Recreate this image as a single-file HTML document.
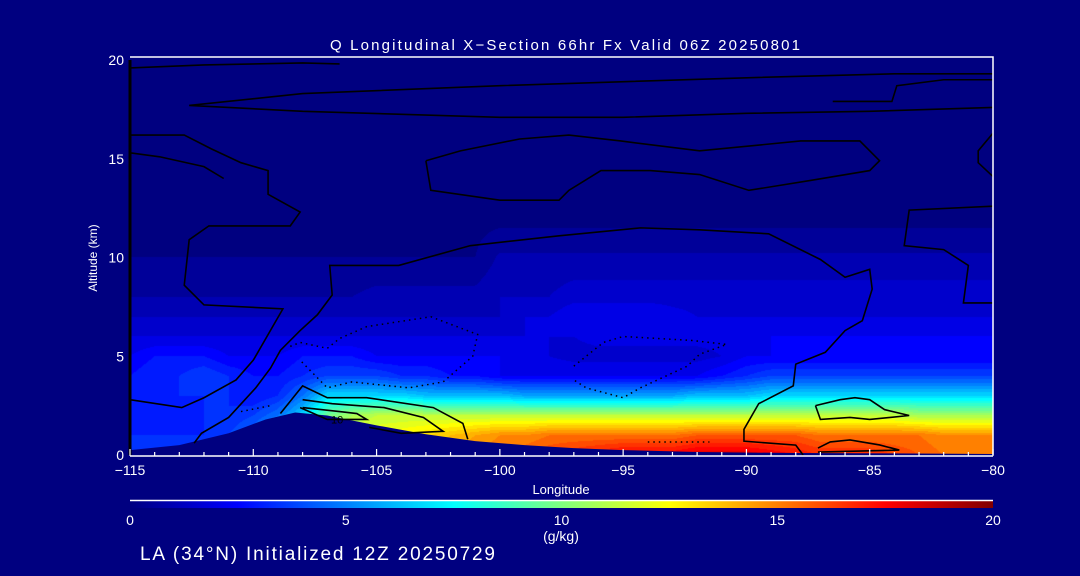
<!DOCTYPE html>
<html><head><meta charset="utf-8">
<style>
html,body{margin:0;padding:0;background:#000080;}
#wrap{position:relative;width:1080px;height:576px;overflow:hidden;background:#000080;font-family:"Liberation Sans",sans-serif;}
canvas{position:absolute;left:0;top:0;}
svg{position:absolute;left:0;top:0;}
</style></head>
<body>
<div id="wrap">
<canvas id="heat" width="1080" height="576"></canvas>
<svg id="ov" width="1080" height="576" viewBox="0 0 1080 576">
<defs>
<linearGradient id="jet" x1="0" x2="1" y1="0" y2="0">
<stop offset="0" stop-color="rgb(0,0,128)"/>
<stop offset="0.125" stop-color="rgb(0,0,255)"/>
<stop offset="0.375" stop-color="rgb(0,255,255)"/>
<stop offset="0.5" stop-color="rgb(127,255,127)"/>
<stop offset="0.625" stop-color="rgb(255,255,0)"/>
<stop offset="0.875" stop-color="rgb(255,0,0)"/>
<stop offset="1" stop-color="rgb(128,0,0)"/>
</linearGradient>
</defs>
<text x="565" y="50" fill="#fff" font-size="15" text-anchor="middle" textLength="470">Q Longitudinal X−Section 66hr  Fx Valid 06Z 20250801</text>
<text transform="translate(97,258) rotate(-90)" fill="#fff" font-size="12" text-anchor="middle">Altitude (km)</text>
<text x="561" y="494" fill="#fff" font-size="13" text-anchor="middle">Longitude</text>
<rect x="130" y="501" width="863" height="7" fill="url(#jet)"/>
<line x1="130" y1="500.5" x2="993" y2="500.5" stroke="#fff" stroke-width="1.5"/>
<text x="561" y="541" fill="#fff" font-size="14" text-anchor="middle">(g/kg)</text>
<text x="140" y="560" fill="#fff" font-size="19" textLength="355">LA (34°N) Initialized 12Z 20250729</text>
</svg>
</div>
<script>
// ---- data ----
const lons = [-115,-114,-113,-112,-111,-110,-109,-108,-107,-106,-105,-104,-103,-102,-101,-100,-99,-98,-97,-96,-95,-94,-93,-92,-91,-90,-89,-88,-87,-86,-85,-84,-83,-82,-81,-80];
const alts = [0,1,2,3,4,5,6,7,8,10,12,15,20];
const q0 = [3.5,3.5,3.5,4,4,5,7,9,11,12,13,13.5,14,14.5,15,15.5,16,16.5,17,17.5,18,18,18,18.5,18.5,18.5,18,17.5,17,17,17,16.5,16,15.5,15,15];
const q1 = [3.5,3.5,3.5,3.5,4,5,7,9,11,12,12.5,13,13.5,14,14.5,15,15,15.5,15.5,15.5,15.5,15.5,15.5,16,16,16,16,16,15.5,15.5,15.5,15.5,15.5,15,15,15];
const q2 = [3,3,3,3.5,3.5,4,5,7,10,11,11.5,11.5,11.5,11.5,11.5,11.5,11.5,11.5,11.5,11.5,11.5,11.5,11.5,11.5,11.5,11.5,11.5,11.5,11.5,11.5,11.5,11.5,11,11,11,11];
const q3 = [3,3,3.5,3.5,3.5,3,3.5,5,7,7,7,7,6.5,6.5,6.5,6.5,6,6,6,6,6,6,6,6.5,6.5,6.5,7,7,7,7,7,7,7,7,7,7];
const q4 = [3,3.5,3.5,4,3.5,3,3,3.5,4,4,4,3.5,3.5,3,3,2.5,2.5,2.5,2.5,2.5,2.5,2.5,2.5,2.5,3,3.5,4,4,4,4,4,4,4,4,4,4];
const q5 = [2.5,3,3,3,2.5,2.5,2.5,3,3,3,2.5,2.5,2.5,2.5,2.5,2.5,2,2,1.8,1.8,1.8,1.8,1.8,1.8,2,2.5,2.5,2.5,2.5,2.5,2.5,2.5,2.5,2.5,2.5,2.5];
const q6 = [2,2,2,2,2,2,2,2,2,2,2,2,2,2,2,2,2,2,2,2.2,2.2,2.2,2.2,2.2,2.2,2.2,2.5,2.5,2.5,2.5,2.5,2.5,2.5,2.5,2.5,2.5];
const q7 = [1.5,1.5,1.5,1.5,1.5,1.5,1.5,1.5,1.5,1.5,1.5,1.5,1.5,1.5,1.5,1.5,2,2,2.5,2.5,2.5,2.5,2.2,2,2,2,2,2,2,2,2,2,2,2,2,2];
const q8 = [1,1,1,1,1,1,1,1,1,1,1.2,1.2,1.2,1.2,1.2,1.5,1.5,1.5,1.8,1.8,1.8,1.8,1.8,1.8,1.8,1.8,1.8,1.8,1.8,1.8,1.8,1.8,1.8,1.8,1.8,1.8];
const q10 = [0.5,0.5,0.5,0.5,0.5,0.5,0.5,0.5,0.5,0.5,0.5,0.5,0.5,0.5,0.5,1.1,1.1,1.1,1.1,1.1,1.1,1.1,1.1,1.1,1.1,1.1,1.1,1.1,1.1,1.1,1.1,1.1,1.1,1.1,1.1,1.1];
const q12 = [0.3,0.3,0.3,0.3,0.3,0.3,0.3,0.3,0.3,0.3,0.3,0.3,0.3,0.3,0.3,0.3,0.3,0.3,0.3,0.3,0.3,0.3,0.3,0.3,0.3,0.3,0.3,0.3,0.3,0.3,0.3,0.3,0.3,0.3,0.3,0.3];
const q15 = [0,0,0,0,0,0,0,0,0,0,0,0,0,0,0,0,0,0,0,0,0,0,0,0,0,0,0,0,0,0,0,0,0,0,0,0];
const q20 = [0,0,0,0,0,0,0,0,0,0,0,0,0,0,0,0,0,0,0,0,0,0,0,0,0,0,0,0,0,0,0,0,0,0,0,0];
const qRows = [q0,q1,q2,q3,q4,q5,q6,q7,q8,q10,q12,q15,q20];
const terrainLon = [-115,-113,-111,-109.5,-108.3,-107,-105,-103,-101,-99,-97,-95,-92,-88,-84,-80];
const terrainAlt = [0.25,0.5,1.1,1.8,2.15,2.0,1.5,1.05,0.7,0.5,0.35,0.25,0.15,0.1,0.08,0.05];
const xTicks = [-115,-110,-105,-100,-95,-90,-85,-80];
const xTickLabels = ["−115","−110","−105","−100","−95","−90","−85","−80"];
const yTicks = [0,5,10,15,20];
const cbTicks = [0,5,10,15,20];
// contour lines (lon, alt)
const cA = [[-112.4,0.6],[-112.1,1.1],[-111,1.9],[-109.9,3.4],[-109.3,4.4],[-108.9,5.3],[-108.1,6.3],[-107.4,7.1],[-106.8,8.1],[-106.9,9.6],[-104.1,9.6],[-101.2,10.6],[-97.6,11.1],[-94.3,11.5],[-91.9,11.4],[-89.1,11.2],[-87,9.9],[-86,9],[-85,9.4],[-84.9,8.4],[-85.3,6.8],[-86,6.3],[-86.8,5.2],[-88,4.6],[-88.1,3.5],[-89.5,2.6],[-90.1,1.3],[-90.1,0.7],[-88,0.5],[-87.7,0]];
const cB = [[-115,16.2],[-112.8,16.2],[-111.7,15.5],[-110.5,14.8],[-109.4,14.4],[-109.4,13.2],[-108.1,12.3],[-108.5,11.6],[-111.8,11.6],[-112.6,10.9],[-112.8,8.6],[-112,7.6],[-108.8,7.4],[-110,4.8],[-110.7,3.8],[-112,2.9],[-112.9,2.4],[-115,2.8]];
const cB2 = [[-115,15.3],[-113.8,15.1],[-112,14.6],[-111.2,14]];
const cC = [[-103,14.9],[-101.6,15.4],[-99.2,16],[-97.2,16.2],[-95.1,15.9],[-91.9,15.4],[-87.8,15.9],[-85.4,15.9],[-84.6,14.9],[-85,14.4],[-87.4,13.9],[-89.9,13.4],[-91.9,14.2],[-93.9,14.4],[-95.9,14.4],[-97.2,13.4],[-97.6,12.9],[-100,12.9],[-102.8,13.4],[-103,14.9]];
const cD = [[-80,19.3],[-84,19.3],[-90,19.1],[-100,18.7],[-108,18.3],[-112.6,17.7],[-108,17.4],[-100,17.1],[-95,17.1],[-90,17.3],[-85,17.4],[-80,17.6]];
const cE = [[-115,19.6],[-112,19.75],[-108,19.85],[-106.5,19.8]];
const cR1 = [[-80,16.3],[-80.6,15.4],[-80.6,14.8],[-80,14.1]];
const cR2 = [[-80,12.6],[-83.4,12.4],[-83.6,10.6],[-82,10.4],[-81,9.6],[-81.2,7.7],[-80,7.7]];
const cR3 = [[-86.5,17.9],[-85.5,17.9],[-84.1,17.9],[-83.9,18.7],[-82,19],[-80,19]];
const cL1 = [[-87.2,2.5],[-86.2,2.8],[-85.6,2.9],[-85,2.8],[-84.4,2.3],[-83.4,2],[-85,1.8],[-85.8,1.9],[-87,1.8],[-87.2,2.5]];
const cL2 = [[-87.1,0.35],[-86.6,0.66],[-85.8,0.76],[-84.6,0.51],[-83.8,0.25],[-87.1,0.15]];
const cH = [[-108.9,2.1],[-108,3.5],[-107,2.9],[-105.4,2.9],[-102.7,2.4],[-101.5,1.6],[-101.3,0.8]];
const cI = [[-108,2.8],[-106.8,2.6],[-104.7,2.4],[-103.1,1.9],[-102.3,1.2],[-104,1.1],[-105.3,1.4]];
const cJ = [[-108.1,2.4],[-107,1.8],[-105.4,1.8],[-105.8,2.1],[-106.5,2.2],[-108,2.4]];
const dA = [[-108.5,5.5],[-108.1,5.7],[-107,5.4],[-106.5,5.9],[-105.4,6.5],[-102.8,7],[-100.9,6.1],[-101.1,5],[-102.3,3.7],[-103.7,3.4],[-106,3.7],[-107,3.4],[-108.1,4.8]];
const dB = [[-97,4.5],[-95.8,5.7],[-95,6],[-92.2,5.8],[-90.8,5.6],[-91.9,5.1],[-92.4,4.5],[-94.3,3.4],[-95,2.9],[-96.5,3.4],[-97,3.8]];
const dC = [[-94,0.66],[-91.5,0.66]];
const dD = [[-110.5,2.2],[-109.3,2.5]];
const solidContours = [cA,cB,cB2,cC,cD,cE,cR1,cR2,cR3,cL1,cL2,cH,cI,cJ];
const dottedContours = [dA,dB,dC,dD];

// ---- axes ----
const X0=130,X1=993,Y0=455,Y1=60;
const LON0=-115,LON1=-80,ALT0=0,ALT1=20;
function xs(l){return X0+(l-LON0)/(LON1-LON0)*(X1-X0);}
function ys(a){return Y0-(a-ALT0)/(ALT1-ALT0)*(Y0-Y1);}
function xl(px){return LON0+(px-X0)/(X1-X0)*(LON1-LON0);}
function yl(py){return ALT0+(Y0-py)/(Y0-Y1)*(ALT1-ALT0);}
function jet(v){
  let t=Math.max(0,Math.min(1,v/20));
  const c=x=>Math.round(255*Math.max(0,Math.min(1,x)));
  return [c(1.5-Math.abs(4*t-3)),c(1.5-Math.abs(4*t-2)),c(1.5-Math.abs(4*t-1))];
}
function sample(l,a){
  let i=0; while(i<lons.length-2 && lons[i+1]<l) i++;
  let j=0; while(j<alts.length-2 && alts[j+1]<a) j++;
  let fx=(l-lons[i])/(lons[i+1]-lons[i]); fx=Math.max(0,Math.min(1,fx));
  let fy=(a-alts[j])/(alts[j+1]-alts[j]); fy=Math.max(0,Math.min(1,fy));
  const r0=qRows[j],r1=qRows[j+1];
  const v0=r0[i]*(1-fx)+r0[i+1]*fx, v1=r1[i]*(1-fx)+r1[i+1]*fx;
  return v0*(1-fy)+v1*fy;
}
// heatmap
const cv=document.getElementById('heat'),ctx=cv.getContext('2d');
ctx.fillStyle='#000080';ctx.fillRect(0,0,1080,576);
const img=ctx.getImageData(X0,Y1,X1-X0,Y0-Y1);
for(let py=0;py<Y0-Y1;py++){for(let px=0;px<X1-X0;px++){
  let v=sample(xl(X0+px+0.5),yl(Y1+py+0.5));
  v=Math.floor(v*2)/2;
  const c=jet(v),k=(py*(X1-X0)+px)*4;
  img.data[k]=c[0];img.data[k+1]=c[1];img.data[k+2]=c[2];img.data[k+3]=255;
}}
ctx.putImageData(img,X0,Y1);

const svg=document.getElementById('ov'),NS='http://www.w3.org/2000/svg';
function mk(tag,attrs){const e=document.createElementNS(NS,tag);for(const k in attrs)e.setAttribute(k,attrs[k]);svg.appendChild(e);return e;}
// terrain
let tp=terrainLon.map((l,i)=>xs(l)+','+ys(terrainAlt[i])).join(' ');
tp+=' '+xs(LON1)+','+(Y0+1)+' '+xs(LON0)+','+(Y0+1);
const terr=mk('polygon',{points:tp,fill:'#000080'});


// contours
solidContours.forEach(c=>{
  const p=mk('polyline',{points:c.map(q=>xs(q[0])+','+ys(q[1])).join(' '),fill:'none',stroke:'#000','stroke-width':1.6});
  
  
});
dottedContours.forEach(c=>{
  const p=mk('polyline',{points:c.map(q=>xs(q[0])+','+ys(q[1])).join(' '),fill:'none',stroke:'#000','stroke-width':1.5,'stroke-dasharray':'1.5,4'});
  
  
});
const lab10=mk('text',{x:xs(-106.6),y:ys(1.8)+4,'font-size':11,fill:'#000','text-anchor':'middle'});
lab10.textContent='10';


// frame
const fr=mk('polyline',{points:`${X0},57 ${X1},57 ${X1},${Y0}`,fill:'none',stroke:'#fff','stroke-width':1.5});


const la=mk('line',{x1:X0,y1:Y1,x2:X0,y2:Y0,stroke:'#000','stroke-width':3});


const ba=mk('line',{x1:X0,y1:Y0+1,x2:X1,y2:Y0+1,stroke:'#fff','stroke-width':1.5});


for(let l=LON0;l<=LON1;l++){
  const major=xTicks.includes(l);
  const t=mk('line',{x1:xs(l),x2:xs(l),y1:Y0+1,y2:Y0+1-(major?7:4),stroke:'#fff','stroke-width':1.2});
  
  
}
xTicks.forEach((l,i)=>{
  const t=mk('text',{x:xs(l),y:475,fill:'#fff','font-size':14,'text-anchor':'middle'});
  t.textContent=xTickLabels[i];
  
  
});
yTicks.forEach(a=>{
  const t=mk('text',{x:124,y:ys(a)+5,fill:'#fff','font-size':14,'text-anchor':'end'});
  t.textContent=String(a);
  
  
});
cbTicks.forEach(v=>{
  const t=mk('text',{x:X0+v/20*(X1-X0),y:525,fill:'#fff','font-size':14,'text-anchor':'middle'});
  t.textContent=String(v);
  
  
});
</script>
</body></html>
